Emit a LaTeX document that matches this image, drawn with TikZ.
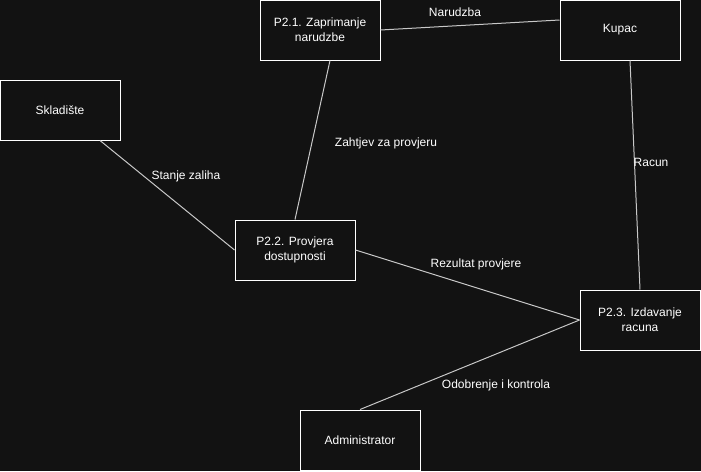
\documentclass[tikz,border=0pt]{standalone}
\usepackage{fontspec}
\setmainfont{Liberation Sans}
\definecolor{bg}{HTML}{121212}
\definecolor{ln}{HTML}{C8C8C8}
\begin{document}
\begin{tikzpicture}[x=1pt,y=-1pt,
  box/.style={draw=white,line width=1pt,fill=bg,minimum width=120pt,minimum height=60pt,inner sep=0pt,text=white,align=center,font=\fontsize{12}{15}\selectfont},
  lbl/.style={text=white,font=\fontsize{12}{14}\selectfont,inner sep=0pt},
  conn/.style={draw=ln,line width=1pt}]
\fill[bg] (0,0) rectangle (701,471);
\useasboundingbox (0,0) rectangle (701,471);
\node[box] (p21) at (320,30) {P2.1. Zaprimanje\\narudzbe};
\node[box] (kup) at (620,30) {Kupac};
\node[box] (skl) at (60,110) {Skladište};
\node[box] (p22) at (295,250) {P2.2. Provjera\\dostupnosti};
\node[box] (p23) at (640,320) {P2.3. Izdavanje\\racuna};
\node[box] (adm) at (360,440) {Administrator};
\draw[conn] (p21.east) -- ([yshift=10pt]kup.west);
\draw[conn] ([xshift=10pt]p21.south) -- (p22.north);
\draw[conn] ([xshift=40pt]skl.south) -- (p22.west);
\draw[conn] (p22.east) -- (p23.west);
\draw[conn] ([xshift=10pt]kup.south) -- (p23.north);
\draw[conn] (p23.west) -- (adm.north);
\node[lbl] (l1) at (455,12) {Narudzba};
\node[lbl] (l2) at (386,143) {Zahtjev za provjeru};
\node[lbl] (l3) at (186,176) {Stanje zaliha};
\node[lbl] (l4) at (476,264) {Rezultat provjere};
\node[lbl] (l5) at (651,162) {Racun};
\node[lbl] (l6) at (496,385) {Odobrenje i kontrola};
\end{tikzpicture}
\end{document}
